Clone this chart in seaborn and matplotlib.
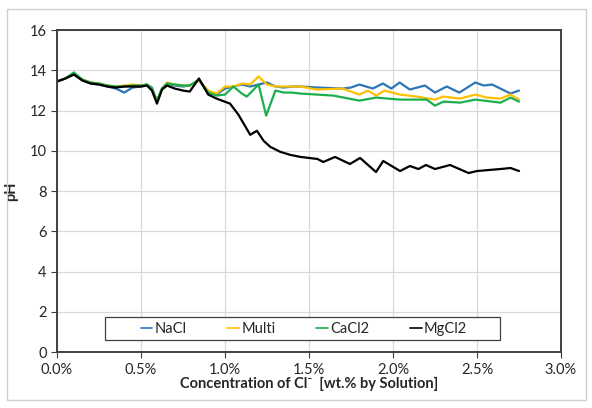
import pandas as pd
import matplotlib.pyplot as plt
import matplotlib.patches as mpatches
from matplotlib.ticker import PercentFormatter
import seaborn as sns

# concentration in wt.%, pH values per solution
nacl_x = [0, 0.05, 0.1, 0.15, 0.2, 0.25, 0.3, 0.35, 0.4, 0.45, 0.5, 0.535, 0.565, 0.595, 0.625, 0.655,
          0.7, 0.75, 0.79, 0.845, 0.9, 0.95, 1.0, 1.05, 1.1, 1.15, 1.2, 1.25, 1.3, 1.35, 1.4, 1.45,
          1.55, 1.7, 1.75, 1.8, 1.88, 1.94, 1.99, 2.04, 2.1, 2.19, 2.25, 2.32, 2.395, 2.49, 2.54,
          2.59, 2.7, 2.75]
nacl_ph = [13.45, 13.6, 13.8, 13.55, 13.35, 13.3, 13.2, 13.1, 12.9, 13.15, 13.2, 13.3, 13.15, 12.45,
           13.1, 13.35, 13.25, 13.2, 13.25, 13.5, 12.9, 12.8, 13.1, 13.2, 13.3, 13.2, 13.3, 13.4,
           13.2, 13.15, 13.2, 13.2, 13.15, 13.1, 13.15, 13.3, 13.1, 13.35, 13.1, 13.4, 13.05, 13.25,
           12.9, 13.2, 12.9, 13.4, 13.25, 13.3, 12.85, 13.0]

multi_x = [0, 0.05, 0.1, 0.15, 0.2, 0.25, 0.3, 0.35, 0.4, 0.45, 0.5, 0.535, 0.565, 0.595, 0.625, 0.655,
           0.7, 0.75, 0.79, 0.845, 0.9, 0.95, 1.0, 1.05, 1.1, 1.15, 1.2, 1.25, 1.3, 1.4, 1.45,
           1.545, 1.7, 1.8, 1.85, 1.9, 1.95, 2.04, 2.14, 2.25, 2.3, 2.4, 2.49, 2.56, 2.64, 2.7, 2.75]
multi_ph = [13.45, 13.6, 13.85, 13.55, 13.4, 13.35, 13.25, 13.2, 13.25, 13.3, 13.25, 13.3, 13.1, 12.45,
            13.1, 13.4, 13.3, 13.25, 13.25, 13.5, 13.0, 12.85, 13.2, 13.2, 13.35, 13.3, 13.7, 13.3,
            13.2, 13.2, 13.2, 13.05, 13.1, 12.8, 13.0, 12.75, 13.0, 12.8, 12.7, 12.55, 12.7, 12.6,
            12.8, 12.65, 12.6, 12.8, 12.55]

cacl2_x = [0, 0.05, 0.1, 0.15, 0.2, 0.25, 0.3, 0.35, 0.4, 0.45, 0.5, 0.535, 0.565, 0.595, 0.625, 0.655,
           0.7, 0.75, 0.79, 0.845, 0.9, 0.95, 1.0, 1.05, 1.1, 1.13, 1.2, 1.245, 1.3, 1.35, 1.4, 1.45,
           1.645, 1.8, 1.9, 2.04, 2.2, 2.25, 2.3, 2.4, 2.49, 2.64, 2.7, 2.75]
cacl2_ph = [13.45, 13.6, 13.9, 13.55, 13.4, 13.35, 13.25, 13.2, 13.2, 13.25, 13.25, 13.3, 13.1, 12.5,
            13.1, 13.35, 13.3, 13.25, 13.25, 13.55, 12.9, 12.75, 12.8, 13.2, 12.85, 12.7, 13.3, 11.75,
            13.0, 12.9, 12.9, 12.85, 12.75, 12.5, 12.65, 12.55, 12.55, 12.25, 12.45, 12.4, 12.55,
            12.4, 12.65, 12.45]

mgcl2_x = [0, 0.05, 0.1, 0.15, 0.2, 0.25, 0.3, 0.35, 0.4, 0.45, 0.5, 0.535, 0.565, 0.595, 0.625, 0.655,
           0.7, 0.75, 0.79, 0.845, 0.9, 0.95, 1.03, 1.08, 1.15, 1.19, 1.23, 1.27, 1.33, 1.39, 1.45,
           1.55, 1.585, 1.655, 1.744, 1.804, 1.899, 1.942, 2.042, 2.101, 2.151, 2.196, 2.25, 2.34,
           2.45, 2.5, 2.64, 2.7, 2.75]
mgcl2_ph = [13.45, 13.6, 13.8, 13.5, 13.35, 13.3, 13.2, 13.15, 13.2, 13.2, 13.2, 13.25, 13.0, 12.35,
            13.05, 13.25, 13.1, 13.0, 12.95, 13.6, 12.8, 12.6, 12.35, 11.8, 10.8, 11.0, 10.5, 10.2,
            9.95, 9.8, 9.7, 9.6, 9.45, 9.7, 9.35, 9.65, 8.95, 9.5, 9.0, 9.25, 9.1, 9.3, 9.1, 9.3,
            8.9, 9.0, 9.1, 9.15, 9.0]

series_names = ["NaCl", "Multi", "CaCl2", "MgCl2"]
colors = ["#2E75B6", "#FFC000", "#1DAF4E", "#000000"]

frames = []
for name, xs, ys in zip(series_names, [nacl_x, multi_x, cacl2_x, mgcl2_x],
                        [nacl_ph, multi_ph, cacl2_ph, mgcl2_ph]):
    frames.append(pd.DataFrame({"conc": xs, "pH": ys, "Solution": name}))
df = pd.concat(frames, ignore_index=True)

sns.set_style("whitegrid")
plt.rcParams["font.family"] = ["Lato", "DejaVu Sans"]

fig = plt.figure(figsize=(5.92, 4.08), dpi=100)
ax = fig.add_axes([0.0963, 0.137, 0.8513, 0.789])

sns.lineplot(data=df, x="conc", y="pH", hue="Solution", hue_order=series_names,
             palette=colors, estimator=None, linewidth=1.6, ax=ax)

ax.set_xlim(0, 3.0)
ax.set_ylim(0, 16)
ax.set_xticks([0, 0.5, 1.0, 1.5, 2.0, 2.5, 3.0])
ax.set_yticks(range(0, 17, 2))
ax.xaxis.set_major_formatter(PercentFormatter(xmax=100, decimals=1))
ax.grid(True, color="#d9d9d9", linewidth=0.9)
for side in ax.spines.values():
    side.set_color("#404040")
    side.set_linewidth(1.4)
ax.tick_params(axis="both", labelsize=10.5, colors="#404040", labelcolor="#262626",
               length=4, width=0.8, direction="out", left=True, bottom=True)

ax.set_xlabel("Concentration of Cl\u207b  [wt.% by Solution]", fontsize=10.5,
              fontweight="bold", color="#262626", labelpad=0)
ax.set_ylabel("pH", fontsize=10.5, fontweight="bold", color="#262626", labelpad=8)

# legend box drawn separately so the entries sit centred with wide side margins
ax.add_patch(mpatches.Rectangle((0.095, 0.037), 0.784, 0.072, transform=ax.transAxes,
                                facecolor="white", edgecolor="#404040", linewidth=0.9,
                                zorder=4.5))
leg = ax.legend(loc="center", bbox_to_anchor=(0.49, 0.073), ncol=4, fontsize=10.5,
                frameon=False, handlelength=0.8, handletextpad=0.15, columnspacing=2.8)
leg.set_zorder(5)
for line in leg.get_lines():
    line.set_linewidth(1.2)

# light outer chart border
fig.patches.append(mpatches.Rectangle((0.012, 0.02), 0.978, 0.958, transform=fig.transFigure,
                                      fill=False, edgecolor="#d0d0d0", linewidth=1.0))

fig.savefig("out.png", dpi=100)
plt.close(fig)
